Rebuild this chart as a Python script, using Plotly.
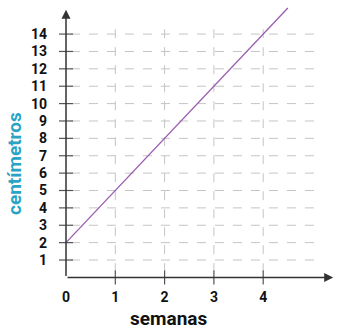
import plotly.graph_objects as go

# Data
weeks = [0, 4.5]
cm = [2, 15.5]
x_ticks = [0, 1, 2, 3, 4]
y_ticks = list(range(1, 15))
x_title = "semanas"
y_title = "centímetros"

W, H = 338, 331
ML, MR, MT, MB = 50, 0, 0, 44
PX_X = 49.3   # px per week
PX_Y = 17.38  # px per cm
X0_PIX, Y0_PIX = 66, 277.4

xa = (ML - X0_PIX) / PX_X
xb = (W - MR - X0_PIX) / PX_X
yb = (Y0_PIX - MT) / PX_Y
ya = (Y0_PIX - (H - MB)) / PX_Y

PW = W - ML - MR
PH = H - MT - MB


def px_to_paper(px, py):
    return (px - ML) / PW, (H - MB - py) / PH


GRID = "#c4c4c4"
AXIS = "#333333"
FONT = "Roboto"

fig = go.Figure()
fig.add_trace(go.Scatter(x=weeks, y=cm, mode="lines",
                         line=dict(color="#9b5cb0", width=1.3),
                         hoverinfo="skip", cliponaxis=False))

shapes = []
grid_right = 5.06
grid_top = 14.7
for yv in y_ticks:
    shapes.append(dict(type="line", xref="x", yref="y", x0=0.1, x1=grid_right, y0=yv, y1=yv,
                       line=dict(color=GRID, width=1, dash="dash"), layer="below"))
    shapes.append(dict(type="line", xref="x", yref="y", xsizemode="pixel", xanchor=0,
                       x0=-7, x1=7, y0=yv, y1=yv, line=dict(color="#555555", width=1.2)))
for xv in x_ticks[1:]:
    shapes.append(dict(type="line", xref="x", yref="y", x0=xv, x1=xv, y0=0.3, y1=grid_top,
                       line=dict(color=GRID, width=1, dash="dash"), layer="below"))
    shapes.append(dict(type="line", xref="x", yref="y", ysizemode="pixel", yanchor=0,
                       x0=xv, x1=xv, y0=-7, y1=7, line=dict(color="#555555", width=1.2)))

tx, ty = px_to_paper(168.5, 331)
yx, yy = px_to_paper(14, 164)

annotations = [
    dict(x=5.42, y=0, ax=0, ay=0, xref="x", yref="y", axref="x", ayref="y",
         showarrow=True, arrowhead=2, arrowsize=1.2, arrowwidth=1.5, arrowcolor=AXIS, text=""),
    dict(x=0, y=15.4, ax=0, ay=0, xref="x", yref="y", axref="x", ayref="y",
         showarrow=True, arrowhead=2, arrowsize=1.2, arrowwidth=1.5, arrowcolor=AXIS, text=""),
    dict(x=tx, y=ty, xref="paper", yref="paper", text=x_title,
         showarrow=False, font=dict(family=FONT, size=19, color="#111111", weight="bold"),
         xanchor="center", yanchor="bottom", borderpad=0),
    dict(x=yx, y=yy, xref="paper", yref="paper", text=y_title, textangle=-90,
         showarrow=False, font=dict(family=FONT, size=19, color="#2ba3c5", weight="bold"),
         xanchor="center", yanchor="middle"),
]

fig.update_layout(
    width=W, height=H,
    margin=dict(l=ML, r=MR, t=MT, b=MB),
    paper_bgcolor="white", plot_bgcolor="white",
    showlegend=False,
    shapes=shapes, annotations=annotations,
    xaxis=dict(range=[xa, xb], tickvals=x_ticks, ticktext=[str(v) for v in x_ticks],
               showgrid=False, zeroline=False, showline=False, ticks="",
               ticklabelstandoff=0,
               tickfont=dict(family=FONT, size=14, color="#111111", weight="bold")),
    yaxis=dict(range=[ya, yb], tickvals=y_ticks, ticktext=[str(v) for v in y_ticks],
               showgrid=False, zeroline=False, showline=False, ticks="",
               ticklabelstandoff=2,
               tickfont=dict(family=FONT, size=14, color="#111111", weight="bold")),
)

fig.write_html("out.html")
